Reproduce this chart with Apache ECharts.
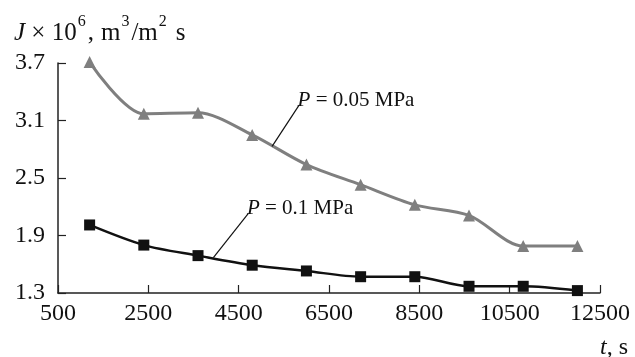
<!DOCTYPE html>
<html><head><meta charset="utf-8">
<script src="https://cdn.jsdelivr.net/npm/echarts@6/dist/echarts.min.js"></script>
<style>html,body{margin:0;padding:0;background:#fff}#c{width:635px;height:357px}</style>
</head><body><div id="c"></div>
<script>
const times = [1200, 2400, 3600, 4800, 6000, 7200, 8400, 9600, 10800, 12000];
const fluxP005 = [3.71, 3.17, 3.18, 2.95, 2.64, 2.43, 2.22, 2.11, 1.79, 1.79];
const fluxP01 = [2.01, 1.80, 1.69, 1.59, 1.53, 1.47, 1.47, 1.37, 1.37, 1.325];
const xTicks = [500, 2500, 4500, 6500, 8500, 10500, 12500];
const yTicks = [1.3, 1.9, 2.5, 3.1, 3.7];
const label005 = '{i|P}{n| = 0.05 MPa}';
const label01 = '{i|P}{n| = 0.1 MPa}';
const leader005 = [[5838, 3.26], [5240, 2.83]];
const leader01 = [[4715, 2.13], [3940, 1.67]];

const FONT = '"Liberation Serif", "DejaVu Serif", serif';
const chart = echarts.init(document.getElementById('c'));
const pair = (xs, ys) => xs.map((x, i) => [x, ys[i]]);
const labelRich = {
  i: {fontFamily: FONT, fontSize: 21, fontStyle: 'italic', color: '#111'},
  n: {fontFamily: FONT, fontSize: 21, color: '#111'}
};
function leader(pts) {
  return {
    silent: true, symbol: 'none', animation: false,
    lineStyle: {color: '#111', width: 1.2, type: 'solid'},
    label: {show: false},
    data: [[{coord: pts[0]}, {coord: pts[1]}]]
  };
}
function tag(pt, text) {
  return {
    silent: true, symbol: 'circle', symbolSize: 1, animation: false,
    itemStyle: {color: 'rgba(0,0,0,0)'},
    data: [{coord: pt, label: {show: true, position: 'right', distance: 0, offset: [-2, -5],
      formatter: text, rich: labelRich}}]
  };
}
const titleBase = {fontFamily: FONT, fontWeight: 'normal', color: '#111', lineHeight: 32};
chart.setOption({
  animation: false,
  textStyle: {fontFamily: FONT},
  title: [
    {
      left: 9, top: 9,
      text: '{i|J}{n| × 10}{s|6}{n|,}{m|m}{s|3}{n|/m}{s|2}{m|s}',
      textStyle: {
        fontWeight: 'normal',
        rich: {
          i: Object.assign({fontSize: 25, fontStyle: 'italic', verticalAlign: 'bottom'}, titleBase),
          n: Object.assign({fontSize: 25, verticalAlign: 'bottom'}, titleBase),
          m: Object.assign({fontSize: 25, verticalAlign: 'bottom', padding: [0, 0, 0, 7]}, titleBase),
          s: Object.assign({fontSize: 16, verticalAlign: 'top', padding: [0, 2, 0, 1]}, titleBase)
        }
      }
    },
    {
      right: 2, top: 331,
      text: '{i|t}{n|, s}',
      textStyle: {
        fontWeight: 'normal',
        rich: {
          i: {fontFamily: FONT, fontSize: 24, fontStyle: 'italic', fontWeight: 'normal', color: '#111'},
          n: {fontFamily: FONT, fontSize: 24, fontWeight: 'normal', color: '#111'}
        }
      }
    }
  ],
  grid: {left: 58, right: 35, top: 63, bottom: 64},
  xAxis: {
    type: 'value', min: xTicks[0], max: xTicks[xTicks.length - 1], interval: 2000,
    axisLine: {lineStyle: {color: '#222', width: 1.5}},
    axisTick: {inside: true, length: 8, lineStyle: {color: '#222', width: 1.2}},
    axisLabel: {fontFamily: FONT, fontSize: 24, color: '#111', margin: 9,
      formatter: v => String(v)},
    splitLine: {show: false}
  },
  yAxis: {
    type: 'value', min: yTicks[0], max: yTicks[yTicks.length - 1], interval: 0.6,
    axisLine: {show: true, lineStyle: {color: '#222', width: 1.5}},
    axisTick: {show: true, inside: true, length: 8, lineStyle: {color: '#222', width: 1.2}},
    axisLabel: {fontFamily: FONT, fontSize: 24, color: '#111', margin: 13,
      formatter: v => v.toFixed(1)},
    splitLine: {show: false}
  },
  series: [
    {
      type: 'line', data: pair(times, fluxP005), smooth: 0.3, clip: false,
      symbol: 'triangle', symbolSize: 12,
      lineStyle: {color: '#7f7f7f', width: 3},
      itemStyle: {color: '#7f7f7f'},
      markLine: leader(leader005),
      markPoint: tag(leader005[0], label005)
    },
    {
      type: 'line', data: pair(times, fluxP01), smooth: 0.3, clip: false,
      symbol: 'rect', symbolSize: 11,
      lineStyle: {color: '#111', width: 2.5},
      itemStyle: {color: '#111'},
      markLine: leader(leader01),
      markPoint: tag(leader01[0], label01)
    }
  ]
});
</script></body></html>
